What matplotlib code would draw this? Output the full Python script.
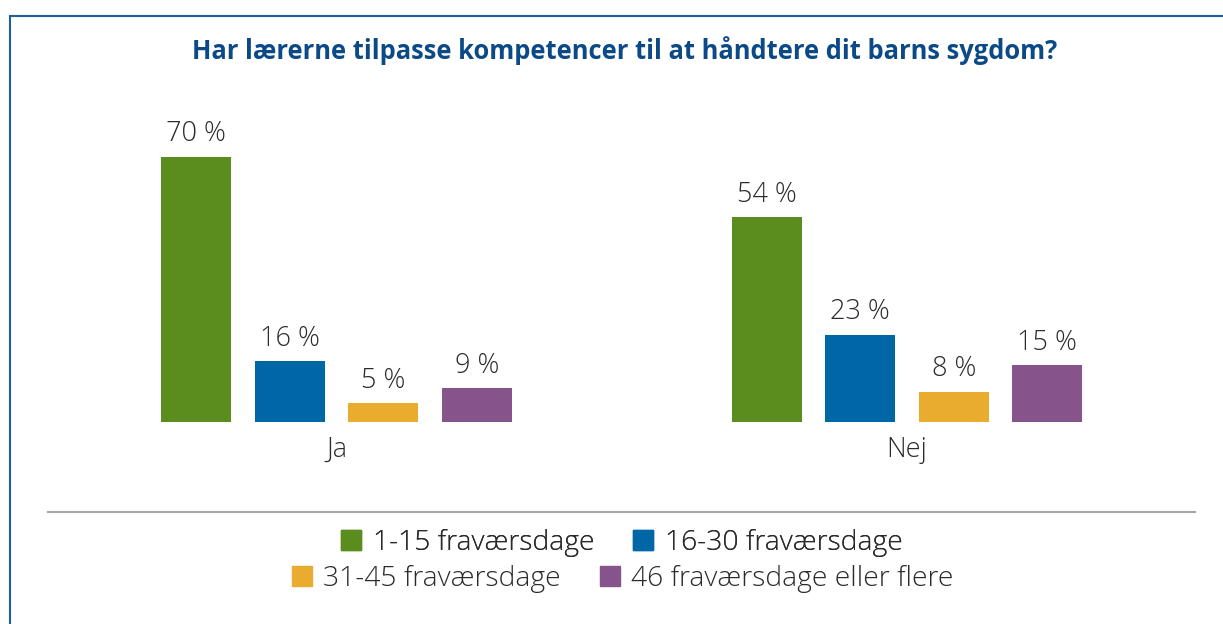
import matplotlib
matplotlib.use("Agg")
import matplotlib.pyplot as plt
from matplotlib.lines import Line2D
from matplotlib.patches import Rectangle
import numpy as np

plt.rcParams['font.family'] = ['Open Sans', 'DejaVu Sans']

title = "Har lærerne tilpasse kompetencer til at håndtere dit barns sygdom?"
categories = ["Ja", "Nej"]
series_names = ["1-15 fraværsdage", "16-30 fraværsdage", "31-45 fraværsdage", "46 fraværsdage eller flere"]
values = [
    [70, 54],
    [16, 23],
    [5, 8],
    [9, 15],
]
colors = ["#5b8c1e", "#0067a7", "#e9ac2f", "#86538a"]

W, H = 1223, 624
fig = plt.figure(figsize=(W / 100, H / 100), dpi=100)

# axes in pixel geometry
ax_left_px, ax_right_px = 50, 1195
base_px = 422
px_per_pct = 3.79
ymax = 80
ax_top_px = base_px - ymax * px_per_pct
ax = fig.add_axes([ax_left_px / W, (H - base_px) / H,
                   (ax_right_px - ax_left_px) / W, (base_px - ax_top_px) / H])

group_sep = 570.5
c0 = 336.5
ax.set_xlim((ax_left_px - c0) / group_sep, (ax_right_px - c0) / group_sep)
ax.set_ylim(0, ymax)

bw = 70 / group_sep
step = 93.5 / group_sep
x = np.arange(len(categories))
text_color = "#2b2b2b"
fs = 19.5
for i, (vals, col) in enumerate(zip(values, colors)):
    xs = x + (i - 1.5) * step
    ax.bar(xs, vals, width=bw, color=col, linewidth=0)
    for xi, v in zip(xs, vals):
        ax.annotate(f"{v} %", (xi, v), xytext=(0, 6), textcoords="offset points",
                    ha="center", va="bottom", fontsize=fs, color=text_color,
                    fontweight="light")

ax.set_xticks(x)
ax.set_xticklabels(categories, fontsize=fs, color=text_color, fontweight="light")
ax.tick_params(axis="x", length=0, pad=10)
ax.set_yticks([])
for s in ax.spines.values():
    s.set_visible(False)

fig.text(0.5 + 13 / W, (H - 51) / H, title, ha="center", va="center", fontsize=18.4,
         fontweight="bold", color="#0b4a86")

# separator line
fig.add_artist(Line2D([48 / W, 1195 / W], [(H - 512) / H] * 2, color="#a6a6a6", lw=1.5))

# border
fig.add_artist(Rectangle((10 / W, -0.1), 1.2, (H - 16) / H + 0.1, fill=False,
                         edgecolor="#1f5d9c", lw=1.5, transform=fig.transFigure))

handles = [Line2D([], [], marker="s", ls="", color=c, markersize=15) for c in colors]
common = dict(frameon=False, handlelength=0.7, handletextpad=0.4,
              columnspacing=1.4, labelcolor=text_color, borderpad=0, borderaxespad=0,
              prop={"size": 20.3, "weight": "light"})
leg1 = fig.legend(handles[:2], series_names[:2], ncol=2, loc="center",
                  bbox_to_anchor=(622 / W, (H - 543) / H), **common)
fig.add_artist(leg1)
leg2 = fig.legend(handles[2:], series_names[2:], ncol=2, loc="center",
                  bbox_to_anchor=(623 / W, (H - 579) / H), **common)

fig.savefig("out.png", dpi=100, facecolor="white")
